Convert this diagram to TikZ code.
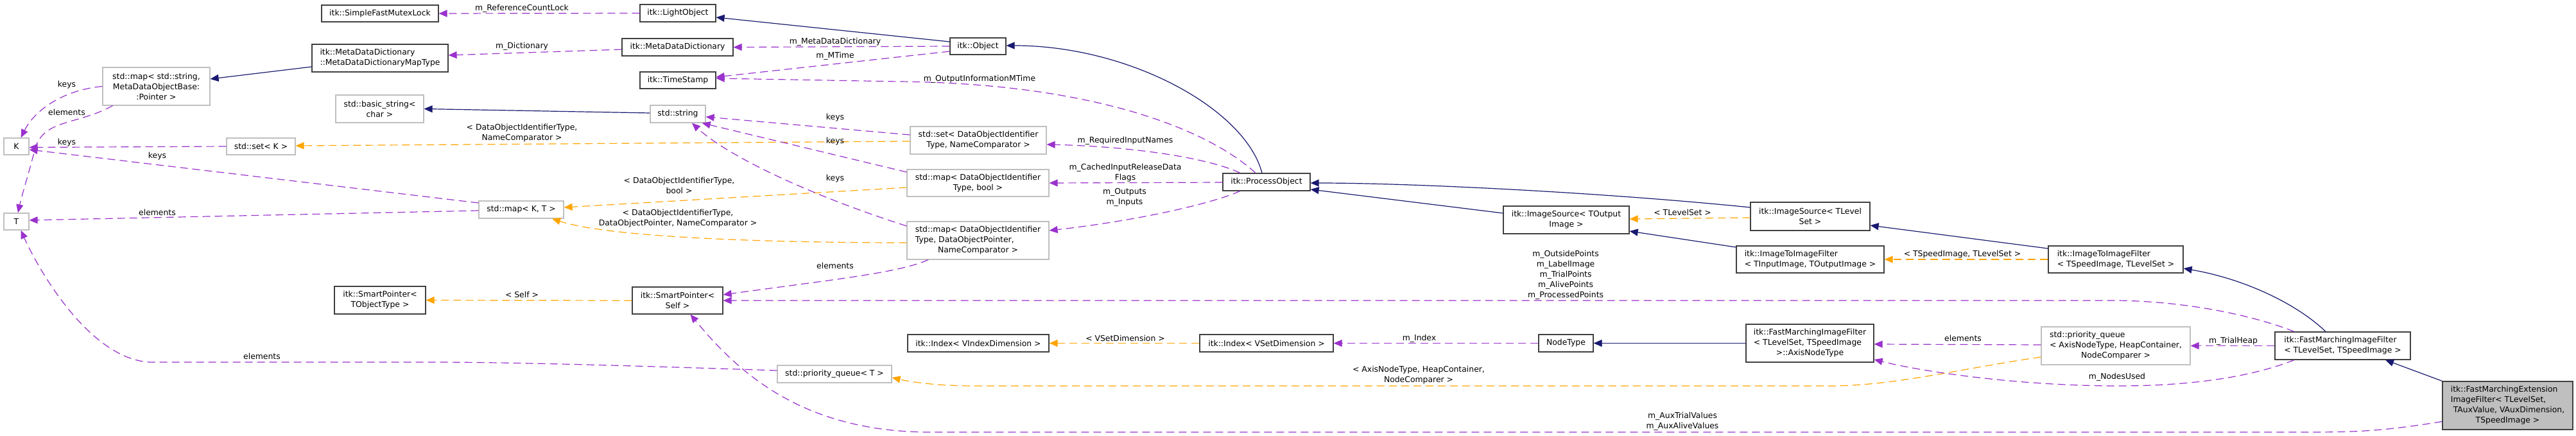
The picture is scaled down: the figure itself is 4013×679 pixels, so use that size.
\documentclass[tikz,border=0pt]{standalone}
\usepackage{fontspec}
\setmainfont{DejaVu Sans}
\usetikzlibrary{arrows.meta,calc}
\definecolor{navy}{HTML}{191970}
\definecolor{purp}{HTML}{9A32CD}
\definecolor{orng}{HTML}{FFA500}
\definecolor{greyb}{HTML}{BFBFBF}
\definecolor{boxk}{HTML}{404040}
\newcommand\mkbox[7]{\node[#1, minimum width={(#4-#2)*0.5pt}, minimum height={(#5-#3)*0.5pt}] (#6) at ({(#2+#4)/2},{(#3+#5)/2}) {#7};}
\newcommand\lefttab[1]{\begin{tabular}{@{}l@{}}#1\end{tabular}}
\newcommand\ctrline[1]{\multicolumn{1}{@{}c@{}}{#1}}
\begin{document}
\begin{tikzpicture}[x=0.5pt,y=-0.5pt,
  every node/.style={font=\fontsize{6.2pt}{8pt}\selectfont},
  doc/.style={draw=boxk, line width=0.6pt, fill=white, inner sep=0pt, align=center},
  undoc/.style={draw=greyb, line width=0.6pt, fill=white, inner sep=0pt, align=center},
  hl/.style={draw=boxk, fill=greyb, line width=0.6pt, inner sep=0pt, align=center},
  tip/.style={-{Triangle[length=6.5pt,width=5.5pt]}},
  inh/.style={draw=navy, line width=0.6pt, tip},
  use/.style={draw=purp, line width=0.6pt, dash pattern=on 6pt off 3.5pt, tip},
  tmpl/.style={draw=orng, line width=0.6pt, dash pattern=on 6pt off 3.5pt, tip},
  lbl/.style={inner sep=0pt, align=center}]
\fill[white] (0,0) rectangle (4013,679);
\useasboundingbox (0,0) rectangle (4013,679);

% class boxes
\mkbox{doc}{501}{8}{683}{34}{sfml}{itk::SimpleFastMutexLock}
\mkbox{doc}{997}{7}{1115}{34}{light}{itk::LightObject}
\mkbox{doc}{969}{60}{1142}{87}{mdd}{itk::MetaDataDictionary}
\mkbox{doc,align=left}{486}{69}{698}{112}{mddmt}{itk::MetaDataDictionary\\::MetaDataDictionaryMapType}
\mkbox{doc}{997}{112}{1115}{138}{ts}{itk::TimeStamp}
\mkbox{doc}{1480}{59}{1567}{85}{obj}{itk::Object}
\mkbox{undoc}{160}{105}{327}{164}{mapstr}{std::map< std::string,\\ MetaDataObjectBase:\\:Pointer >}
\mkbox{undoc}{523}{148}{660}{191}{bstr}{std::basic\_string<\\char >}
\mkbox{undoc}{1013}{164}{1099}{191}{str}{std::string}
\mkbox{undoc}{6}{215}{45}{241}{K}{K}
\mkbox{undoc}{6}{332}{45}{358}{T}{T}
\mkbox{undoc}{353}{215}{460}{241}{setK}{std::set< K >}
\mkbox{undoc}{746}{313}{878}{340}{mapKT}{std::map< K, T >}
\mkbox{undoc}{1418}{197}{1630}{240}{setDOI}{std::set< DataObjectIdentifier\\Type, NameComparator >}
\mkbox{undoc}{1413}{264}{1634}{306}{mapDOIb}{std::map< DataObjectIdentifier\\Type, bool >}
\mkbox{undoc}{1413}{345}{1634}{404}{mapDOIp}{\lefttab{std::map< DataObjectIdentifier\\Type, DataObjectPointer,\\\ctrline{NameComparator >}}}
\mkbox{doc}{1905}{270}{2041}{297}{po}{itk::ProcessObject}
\mkbox{doc}{521}{446}{663}{489}{spto}{itk::SmartPointer<\\TObjectType >}
\mkbox{doc}{985}{447}{1126}{489}{spself}{itk::SmartPointer<\\Self >}
\mkbox{undoc}{1211}{569}{1389}{596}{pqT}{std::priority\_queue< T >}
\mkbox{doc}{1414}{521}{1634}{548}{idxV}{itk::Index< VIndexDimension >}
\mkbox{doc}{1869}{521}{2077}{548}{idxS}{itk::Index< VSetDimension >}
\mkbox{doc}{2342}{321}{2538}{364}{isOut}{itk::ImageSource< TOutput\\Image >}
\mkbox{doc}{2397}{521}{2482}{548}{nodetype}{NodeType}
\mkbox{doc}{2727}{315}{2913}{359}{isLS}{itk::ImageSource< TLevel\\Set >}
\mkbox{doc,align=left}{2705}{383}{2935}{425}{itoiIO}{itk::ImageToImageFilter\\< TInputImage, TOutputImage >}
\mkbox{doc,align=left}{3191}{383}{3401}{425}{itoiSL}{itk::ImageToImageFilter\\< TSpeedImage, TLevelSet >}
\mkbox{doc}{2720}{505}{2919}{564}{axis}{\lefttab{itk::FastMarchingImageFilter\\< TLevelSet, TSpeedImage\\\ctrline{>::AxisNodeType}}}
\mkbox{undoc}{3180}{509}{3412}{568}{pqA}{\lefttab{std::priority\_queue\\< AxisNodeType, HeapContainer,\\\ctrline{NodeComparer >}}}
\mkbox{doc,align=left}{3544}{517}{3755}{560}{fmif}{itk::FastMarchingImageFilter\\< TLevelSet, TSpeedImage >}
\mkbox{hl}{3805}{594}{4008}{669}{fme}{\lefttab{itk::FastMarchingExtension\\ImageFilter< TLevelSet,\\\ TAuxValue, VAuxDimension,\\\ctrline{TSpeedImage >}}}

% inheritance
\draw[inh] ($(obj.west)+(0,-7)$) -- ($(light.east)+(0,6.5)$);
\draw[inh] ($(mddmt.west)+(0,13.5)$) -- ($(mapstr.east)+(0,-11.5)$);
\draw[inh] ($(str.west)+(0,-1.5)$) -- (bstr.east);
\draw[inh] ($(po.north)+(-7,0)$) .. controls (1940,170) and (1760,71) .. ($(obj.east)+(0,-1)$);
\draw[inh] ($(isOut.west)+(0,-10.5)$) -- ($(po.east)+(0,11.5)$);
\draw[inh] ($(isLS.west)+(0,-14)$) .. controls (2500,300) and (2200,285) .. ($(po.east)+(0,1.5)$);
\draw[inh] ($(itoiIO.west)+(0,-19)$) -- ($(isOut.east)+(0,17.5)$);
\draw[inh] ($(itoiSL.west)+(0,-17)$) -- ($(isLS.east)+(0,14)$);
\draw[inh] ($(fmif.north)+(-26.5,0)$) .. controls (3580,475) and (3500,435) .. ($(itoiSL.east)+(0,14)$);
\draw[inh] (fme.north west) -- ($(fmif.south)+(66.5,0)$);
\draw[inh] (axis.west) -- (nodetype.east);

% template instances
\draw[tmpl] ($(setDOI.west)+(0,1.5)$) -- ($(setK.east)+(0,-1)$);
\draw[tmpl] ($(mapDOIb.west)+(0,7)$) -- ($(mapKT.east)+(0,-3.5)$);
\draw[tmpl] ($(mapDOIp.west)+(0,3.5)$) .. controls (1200,378) and (950,370) .. ($(mapKT.south)+(48,0)$);
\draw[tmpl] (itoiSL.west) -- (itoiIO.east);
\draw[tmpl] ($(isLS.west)+(0,2)$) -- ($(isOut.east)+(0,-1.5)$);
\draw[tmpl] (spself.west) -- (spto.east);
\draw[tmpl] (idxS.west) -- (idxV.east);
\draw[tmpl] ($(pqA.west)+(0,17.5)$) .. controls (3050,575) and (2950,601) .. (2850,601) -- (1520,601) .. controls (1460,601) and (1420,595) .. ($(pqT.east)+(0,5.5)$);

% usage
\draw[use] (light.west) -- (sfml.east);
\draw[use] ($(mdd.west)+(0,3.5)$) -- ($(mddmt.east)+(0,-4.5)$);
\draw[use] (obj.west) -- (mdd.east);
\draw[use] ($(obj.west)+(0,8)$) -- ($(ts.east)+(0,-5)$);
\draw[use] ($(po.north)+(-17,0)$) .. controls (1880,200) and (1700,130) .. (1400,127) -- ($(ts.east)+(0,-3)$);
\draw[use] ($(po.north)+(-41,0)$) .. controls (1880,245) and (1760,228) .. ($(setDOI.east)+(0,6.5)$);
\draw[use] ($(po.west)+(0,0.5)$) -- (mapDOIb.east);
\draw[use] ($(po.south)+(-41,0)$) .. controls (1880,320) and (1760,345) .. ($(mapDOIp.east)+(0,-15.5)$);
\draw[use] (mapstr.west) .. controls (100,140) and (55,170) .. ($(K.north)+(7,0)$);
\draw[use] ($(mapstr.south)+(-68,0)$) .. controls (120,195) and (70,185) .. (55,230) .. controls (45,270) and (35,300) .. ($(T.north)+(2.5,0)$);
\draw[use] (setK.west) -- ($(K.east)+(0,1.5)$);
\draw[use] ($(mapKT.west)+(0,-10.5)$) -- ($(K.east)+(0,5)$);
\draw[use] ($(mapKT.west)+(0,1.5)$) -- ($(T.east)+(0,-2)$);
\draw[use] ($(setDOI.west)+(0,-8.5)$) -- ($(str.east)+(0,4.5)$);
\draw[use] ($(mapDOIb.west)+(0,-17)$) -- ($(str.south east)+(-6,0)$);
\draw[use] ($(mapDOIp.west)+(0,-22.5)$) .. controls (1250,300) and (1130,240) .. ($(str.south)+(22,0)$);
\draw[use] ($(mapDOIp.south)+(-77.5,0)$) .. controls (1400,425) and (1300,435) .. ($(spself.east)+(0,-9)$);
\draw[use] ($(fmif.north)+(-75.5,0)$) .. controls (3520,495) and (3420,470) .. (3300,468) -- (spself.east);
\draw[use] ($(fme.west)+(0,25)$) .. controls (3720,670) and (3680,673) .. (3600,673) -- (1450,673) .. controls (1250,673) and (1150,580) .. ($(spself.south)+(20,0)$);
\draw[use] ($(pqT.west)+(0,-5.5)$) .. controls (1000,570) and (800,564) .. (670,564) -- (234,564) .. controls (140,560) and (60,420) .. ($(T.south)+(7,0)$);
\draw[use] ($(pqA.west)+(0,-1.5)$) -- ($(axis.east)+(0,1.5)$);
\draw[use] ($(fmif.south)+(-75.5,0)$) .. controls (3500,590) and (3400,601) .. (3300,601) .. controls (3150,601) and (3000,580) .. ($(axis.east)+(0,25.5)$);
\draw[use] (fmif.west) -- (pqA.east);
\draw[use] (nodetype.west) -- (idxS.east);

% edge labels
\node[lbl] (l1) at (813,13) {m\_ReferenceCountLock};
\node[lbl] (l2) at (813,72) {m\_Dictionary};
\node[lbl] (l3) at (1301,65) {m\_MetaDataDictionary};
\node[lbl] (l4) at (1301,87) {m\_MTime};
\node[lbl] (l5) at (1301,183) {keys};
\node[lbl] (l6) at (1301,220) {keys};
\node[lbl] (l7) at (1301,278) {keys};
\node[lbl] (l8) at (813,207.5) {< DataObjectIdentifierType,\\NameComparator >};
\node[lbl] (l9) at (1058,288.5) {< DataObjectIdentifierType,\\bool >};
\node[lbl] (l10) at (1056,340) {< DataObjectIdentifierType,\\DataObjectPointer, NameComparator >};
\node[lbl] (l11) at (813,459) {< Self >};
\node[lbl] (l12) at (1301,414) {elements};
\node[lbl] (l13) at (1526,123) {m\_OutputInformationMTime};
\node[lbl] (l14) at (1753,219) {m\_RequiredInputNames};
\node[lbl] (l15) at (1753,269) {m\_CachedInputReleaseData\\Flags};
\node[lbl] (l16) at (1752,307) {m\_Outputs\\m\_Inputs};
\node[lbl] (l17) at (1753,527) {< VSetDimension >};
\node[lbl] (l18) at (2621,331) {< TLevelSet >};
\node[lbl] (l19) at (2439,428) {m\_OutsidePoints\\m\_LabelImage\\m\_TrialPoints\\m\_AlivePoints\\m\_ProcessedPoints};
\node[lbl] (l20) at (2211,527) {m\_Index};
\node[lbl] (l21) at (2210,584) {< AxisNodeType, HeapContainer,\\NodeComparer >};
\node[lbl] (l22) at (2621,656) {m\_AuxTrialValues\\m\_AuxAliveValues};
\node[lbl] (l23) at (3057,396) {< TSpeedImage, TLevelSet >};
\node[lbl] (l24) at (3058,527) {elements};
\node[lbl] (l25) at (3298,587) {m\_NodesUsed};
\node[lbl] (l26) at (3479,531) {m\_TrialHeap};
\node[lbl] (l27) at (104,132) {keys};
\node[lbl] (l28) at (104,175) {elements};
\node[lbl] (l29) at (104,222) {keys};
\node[lbl] (l30) at (245,243) {keys};
\node[lbl] (l31) at (245,331) {elements};
\node[lbl] (l32) at (408,555) {elements};
\end{tikzpicture}
\end{document}
